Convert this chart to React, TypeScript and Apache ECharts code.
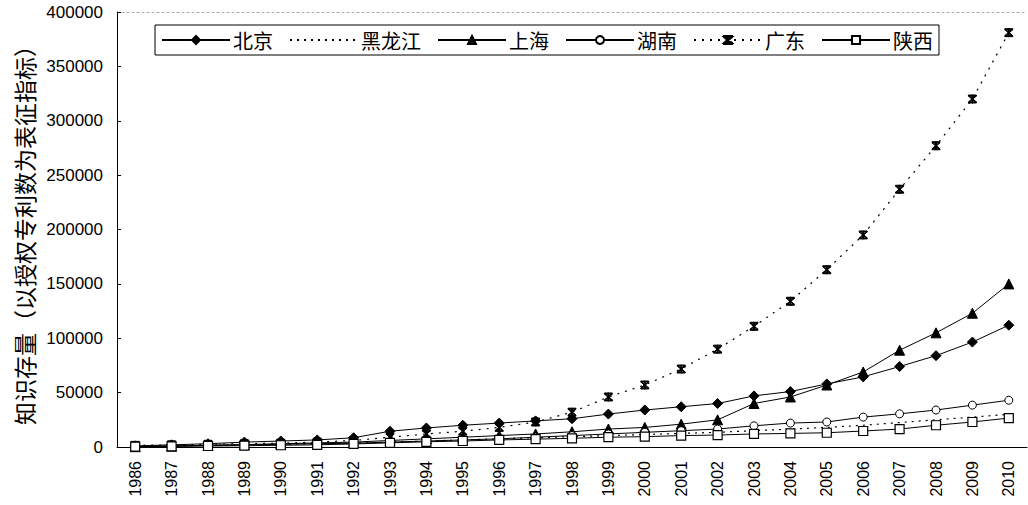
import React, { useEffect, useRef } from "react";
import * as echarts from "echarts";

const years = ["1986","1987","1988","1989","1990","1991","1992","1993","1994","1995","1996","1997","1998","1999","2000","2001","2002","2003","2004","2005","2006","2007","2008","2009","2010"];
const beijing = [1000, 2000, 3000, 4500, 5500, 6500, 8500, 14500, 17500, 20000, 22000, 24000, 26000, 30300, 34000, 37000, 40000, 47000, 51000, 58000, 64500, 74000, 84000, 96500, 112000];
const heilongjiang = [500, 1000, 1500, 2000, 2500, 3000, 3500, 4500, 5500, 6500, 7500, 8500, 9500, 10500, 11500, 12500, 13500, 15000, 16500, 18000, 20000, 22500, 25000, 27500, 30000];
const shanghai = [300, 800, 1500, 2200, 3000, 3800, 4500, 6000, 7500, 9000, 10500, 12000, 14000, 16500, 18000, 21000, 25000, 40000, 46000, 57000, 69000, 89000, 105000, 123000, 150000];
const hunan = [500, 1000, 1500, 2000, 2500, 3000, 3500, 4500, 5500, 6500, 7500, 9000, 10500, 12000, 13500, 15000, 16500, 19500, 22000, 23000, 27500, 30500, 34000, 38500, 43000];
const guangdong = [1500, 2000, 2500, 3000, 3500, 4500, 6000, 9000, 12000, 14500, 18000, 23000, 32000, 46000, 57000, 71700, 90000, 111000, 134000, 163000, 195000, 237000, 277000, 320000, 381000];
const shaanxi = [300, 600, 900, 1200, 1600, 2000, 2800, 3800, 4800, 5500, 6500, 7200, 8000, 9000, 9500, 10500, 11000, 12000, 12500, 13100, 14700, 16500, 20000, 23000, 26600];

const yName = "知识存量（以授权专利数为表征指标）";
const FONT = "'Liberation Sans', 'Noto Sans CJK SC', sans-serif";
const CJK = "'Noto Sans CJK SC', sans-serif";

const asterisk =
  "path://M-4,-4 L4,-4 L4,-3 L-4,-3 Z M-4,3 L4,3 L4,4 L-4,4 Z M-4,-3 L-2.8,-3 L4,3 L2.8,3 Z M2.8,-3 L4,-3 L-2.8,3 L-4,3 Z M-0.5,-4 L0.5,-4 L0.5,4 L-0.5,4 Z";

export default function App() {
  const ref = useRef<HTMLDivElement>(null);
  useEffect(() => {
    document.body.style.margin = "0";
    const chart = echarts.init(ref.current!, null, { renderer: "svg" });
    const base = (name: string, data: number[], extra: any) => ({
      name,
      type: "line",
      data,
      showSymbol: true,
      lineStyle: { color: "#000", width: 1 },
      itemStyle: { color: "#000", borderColor: "#000", borderWidth: 1 },
      ...extra,
    });
    chart.setOption({
      animation: false,
      backgroundColor: "#fff",
      legend: {
        left: 155,
        top: 25,
        padding: [5, 6, 5, 6],
        itemWidth: 68,
        itemHeight: 10,
        itemGap: 16,
        borderColor: "#000",
        borderWidth: 1,
        textStyle: { fontFamily: CJK, fontSize: 20, color: "#000", padding: [0, 0, 0, -2] },
        data: ["北京", "黑龙江", "上海", "湖南", "广东", "陕西"],
      },
      grid: { left: 117, right: 1, top: 12, bottom: 58, containLabel: false },
      xAxis: [
        {
          type: "category",
          data: years,
          boundaryGap: true,
          axisLine: { lineStyle: { color: "#000", width: 1 } },
          axisTick: { inside: true, length: 4, lineStyle: { color: "#000" } },
          axisLabel: { rotate: 90, fontSize: 16, color: "#000", fontFamily: FONT, margin: 14, interval: 0 },
        },
        {
          type: "category",
          data: years,
          position: "top",
          axisLine: { lineStyle: { color: "#aaa", width: 1, type: [2, 3] } },
          axisTick: { show: false },
          axisLabel: { show: false },
        },
      ],
      yAxis: {
        type: "value",
        min: 0,
        max: 400000,
        interval: 50000,
        name: yName,
        nameLocation: "middle",
        nameRotate: 90,
        nameGap: 72,
        nameTextStyle: { fontFamily: CJK, fontSize: 23, color: "#000" },
        axisLine: { show: true, lineStyle: { color: "#000", width: 1 } },
        axisTick: { show: true, inside: true, length: 4, lineStyle: { color: "#000" } },
        axisLabel: { fontSize: 17, color: "#000", fontFamily: FONT, margin: 14, formatter: (v: number) => String(v) },
        splitLine: { show: false },
      },
      series: [
        base("北京", beijing, { symbol: "diamond", symbolSize: 10 }),
        base("黑龙江", heilongjiang, {
          symbol: "circle",
          showSymbol: false,
          itemStyle: { color: "transparent", borderColor: "transparent", borderWidth: 0 },
          lineStyle: { color: "#000", width: 1.2, type: [2, 5] },
        }),
        base("上海", shanghai, { symbol: "triangle", symbolSize: 10 }),
        base("湖南", hunan, {
          symbol: "circle",
          symbolSize: 8,
          itemStyle: { color: "#fff", borderColor: "#000", borderWidth: 1 },
        }),
        base("广东", guangdong, {
          symbol: asterisk,
          symbolSize: 8,
          lineStyle: { color: "#000", width: 1.2, type: [2, 6] },
        }),
        base("陕西", shaanxi, {
          symbol: "rect",
          symbolSize: 9,
          itemStyle: { color: "#fff", borderColor: "#000", borderWidth: 1.2 },
        }),
      ],
    });
    return () => chart.dispose();
  }, []);
  return <div ref={ref} style={{ width: 1028, height: 505 }} />;
}
